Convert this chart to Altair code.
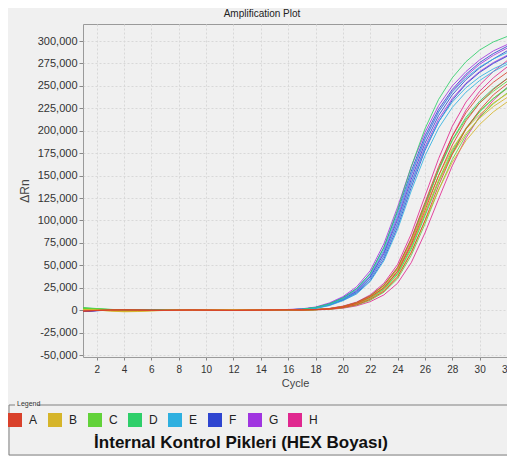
import altair as alt
import pandas as pd

cycles = list(range(1, 33))
rows = ["A", "B", "C", "D", "E", "F", "G", "H"]
row_colors = ["#d9412b", "#d6b52a", "#62d23a", "#2fcf6a", "#2fb0e0", "#2f45d0", "#a035e0", "#e0288f"]
x_ticks = list(range(2, 33, 2))
y_ticks = list(range(-50000, 300001, 25000))

# ΔRn values in thousands, cycles 1..32
A1 = [-1.2, -0.4, 0.2, 0.4, 0.3, 0.1, -0.1, 0.0, 0.2, 0.1, 0.0, -0.2, -0.1, 0.0, 0.2, 0.3,
      0.3, 0.8, 1.8, 4.2, 8.5, 16, 28, 48, 80, 120, 160, 194, 220, 240, 254, 265]
A2 = [-0.8, -0.3, 0.1, 0.3, 0.2, 0.0, -0.1, 0.1, 0.2, 0.1, -0.1, -0.2, 0.0, 0.1, 0.3, 0.4,
      0.2, 0.6, 1.4, 3.5, 7.5, 14.5, 25, 43, 73, 111, 150, 184, 211, 231, 246, 258]
A3 = [-1.0, -0.2, 0.3, 0.2, 0.0, -0.2, -0.1, 0.1, 0.1, 0.0, -0.1, -0.1, 0.1, 0.2, 0.2, 0.3,
      0.2, 0.5, 1.1, 2.8, 6.0, 12, 21, 37, 64, 100, 139, 174, 202, 223, 240, 252]
B1 = [0.5, 0.2, -1.0, -1.8, -1.5, -0.8, -0.3, 0.0, 0.2, 0.3, 0.4, 0.5, 0.4, 0.3, 0.4, 0.5,
      0.2, 0.6, 1.4, 3.5, 7.5, 14.5, 25, 43, 72, 108, 144, 174, 197, 214, 227, 237]
B2 = [0.3, 0.0, -0.8, -1.5, -1.2, -0.6, -0.2, 0.0, 0.1, 0.2, 0.3, 0.3, 0.2, 0.2, 0.3, 0.4,
      0.2, 0.5, 1.2, 3.0, 6.5, 12.5, 22, 38, 65, 99, 134, 165, 189, 207, 221, 232]
B3 = [0.8, 0.3, -0.5, -1.2, -1.0, -0.5, -0.2, 0.1, 0.2, 0.2, 0.3, 0.4, 0.3, 0.3, 0.4, 0.5,
      0.3, 0.7, 1.6, 4.0, 8.2, 15.5, 27, 46, 77, 114, 150, 180, 202, 218, 231, 241]
C1 = [2.5, 1.5, 0.8, 0.3, 0.0, -0.2, -0.1, 0.0, 0.1, 0.0, -0.1, 0.0, 0.1, 0.1, 0.2, 0.3,
      0.3, 0.7, 1.6, 3.9, 8.0, 15.5, 27, 46, 78, 117, 156, 189, 213, 231, 244, 255]
C2 = [2.0, 1.2, 0.6, 0.2, -0.1, -0.2, 0.0, 0.1, 0.0, -0.1, 0.0, 0.1, 0.1, 0.0, 0.2, 0.3,
      0.2, 0.6, 1.3, 3.3, 7.0, 13.5, 24, 41, 70, 107, 145, 178, 203, 222, 236, 247]
C3 = [1.5, 0.9, 0.4, 0.1, -0.1, -0.1, 0.0, 0.0, 0.1, 0.0, -0.1, 0.0, 0.0, 0.1, 0.1, 0.2,
      0.2, 0.5, 1.0, 2.6, 5.6, 11, 20, 35, 61, 96, 134, 168, 195, 215, 230, 242]
D1 = [3.0, 1.8, 0.9, 0.3, 0.0, -0.2, -0.1, 0.0, 0.1, 0.1, 0.0, 0.1, 0.2, 0.3, 0.4, 0.6,
      1.0, 3.0, 7.0, 13.5, 24, 41, 70, 112, 160, 202, 235, 259, 277, 290, 299, 305]
D2 = [2.2, 1.3, 0.6, 0.2, -0.1, -0.2, -0.1, 0.0, 0.1, 0.0, 0.0, 0.1, 0.1, 0.2, 0.3, 0.4,
      0.3, 0.8, 1.7, 4.1, 8.4, 16, 28, 47, 79, 118, 157, 190, 215, 233, 247, 258]
D3 = [1.8, 1.0, 0.5, 0.1, -0.1, -0.1, 0.0, 0.1, 0.0, 0.0, 0.1, 0.1, 0.0, 0.1, 0.2, 0.3,
      0.2, 0.6, 1.3, 3.2, 6.8, 13, 23, 40, 68, 105, 143, 176, 202, 221, 236, 248]
E1 = [-0.5, 0.0, 0.3, 0.4, 0.2, 0.0, -0.1, 0.0, 0.1, 0.2, 0.1, 0.0, 0.1, 0.2, 0.4, 0.6,
      1.0, 3.0, 6.5, 13, 23, 39, 67, 107, 152, 191, 221, 243, 259, 271, 280, 287]
E2 = [-0.3, 0.1, 0.3, 0.3, 0.1, -0.1, -0.1, 0.0, 0.1, 0.1, 0.0, 0.0, 0.1, 0.2, 0.3, 0.5,
      1.0, 2.5, 6.0, 12, 20, 35, 60, 97, 141, 180, 210, 232, 248, 260, 269, 276]
E3 = [-0.6, -0.1, 0.2, 0.3, 0.2, 0.0, -0.1, 0.0, 0.0, 0.1, 0.0, 0.0, 0.1, 0.1, 0.3, 0.4,
      0.5, 2.0, 5.0, 10.5, 18, 32, 55, 90, 133, 172, 203, 226, 243, 256, 266, 274]
F1 = [-1.5, -0.6, 0.0, 0.3, 0.3, 0.1, 0.0, 0.1, 0.2, 0.3, 0.2, 0.1, 0.2, 0.3, 0.4, 0.6,
      1.0, 3.0, 7.0, 14, 24, 41, 70, 110, 155, 194, 224, 246, 263, 276, 286, 294]
F2 = [-1.2, -0.5, 0.1, 0.3, 0.2, 0.0, 0.0, 0.1, 0.2, 0.2, 0.1, 0.0, 0.1, 0.2, 0.3, 0.5,
      1.0, 2.5, 6.0, 12, 21, 37, 63, 101, 146, 186, 217, 240, 257, 270, 280, 289]
F3 = [-1.0, -0.4, 0.0, 0.2, 0.1, 0.0, -0.1, 0.0, 0.1, 0.1, 0.0, 0.0, 0.1, 0.1, 0.2, 0.4,
      0.5, 2.0, 5.5, 11, 19, 33, 57, 93, 137, 178, 210, 234, 252, 265, 275, 283]
G1 = [-1.3, -0.5, 0.1, 0.3, 0.2, 0.1, 0.0, 0.1, 0.2, 0.2, 0.1, 0.1, 0.2, 0.3, 0.5, 0.8,
      1.5, 3.5, 8.0, 15, 26, 44, 74, 115, 160, 198, 228, 250, 266, 279, 289, 296]
G2 = [-1.0, -0.4, 0.1, 0.2, 0.1, 0.0, 0.0, 0.1, 0.1, 0.2, 0.1, 0.0, 0.1, 0.2, 0.4, 0.6,
      1.0, 3.0, 6.5, 13, 22, 38, 65, 104, 150, 190, 221, 244, 261, 274, 284, 292]
G3 = [-0.8, -0.3, 0.1, 0.2, 0.1, 0.0, -0.1, 0.0, 0.1, 0.1, 0.0, 0.0, 0.1, 0.2, 0.3, 0.5,
      1.0, 2.5, 6.0, 12, 20, 35, 60, 97, 142, 182, 213, 236, 253, 266, 276, 284]
H1 = [-0.9, -0.3, 0.2, 0.3, 0.2, 0.0, -0.1, 0.0, 0.2, 0.1, 0.0, -0.1, 0.0, 0.1, 0.3, 0.4,
      0.3, 0.8, 1.9, 4.5, 9.0, 17, 30, 51, 85, 127, 169, 205, 232, 251, 266, 278]
H2 = [-0.7, -0.2, 0.2, 0.2, 0.1, 0.0, -0.1, 0.0, 0.1, 0.1, 0.0, -0.1, 0.0, 0.1, 0.2, 0.4,
      0.2, 0.6, 1.4, 3.5, 7.4, 14.5, 25, 44, 75, 115, 157, 194, 223, 244, 259, 271]
H3 = [-0.6, -0.2, 0.1, 0.2, 0.1, 0.0, 0.0, 0.0, 0.1, 0.1, 0.0, 0.0, 0.0, 0.1, 0.2, 0.3,
      0.1, 0.4, 0.9, 2.2, 4.8, 9.5, 17, 30, 53, 86, 124, 161, 192, 216, 234, 248]

wells = {
    "A1": A1, "A2": A2, "A3": A3, "B1": B1, "B2": B2, "B3": B3,
    "C1": C1, "C2": C2, "C3": C3, "D1": D1, "D2": D2, "D3": D3,
    "E1": E1, "E2": E2, "E3": E3, "F1": F1, "F2": F2, "F3": F3,
    "G1": G1, "G2": G2, "G3": G3, "H1": H1, "H2": H2, "H3": H3,
}

records = []
for name in reversed(list(wells)):
    for c, v in zip(cycles, wells[name]):
        records.append({"well": name, "row": name[0], "cycle": c, "drn": v * 1000})
df = pd.DataFrame(records)

FONT = "Liberation Sans"
BG = "#f0f0f0"

x_axis = alt.Axis(values=x_ticks, title="Cycle", labelFontSize=10,
                  labelOverlap=False, labelFlush=False, labelSeparation=0,
                  tickSize=3, labelPadding=4, titlePadding=3,
                  titleFontSize=11, titleFontWeight="normal")
y_axis = alt.Axis(values=y_ticks, title="ΔRn",
                  labelExpr="replace(format(datum.value, ','), '\u2212', '-')",
                  labelOverlap=False,
                  labelFontSize=11, tickSize=4, labelPadding=2,
                  titlePadding=6, titleFontSize=12, titleFontWeight="normal")
x_scale = alt.Scale(domain=[1, 32], nice=False, zero=False)
y_scale = alt.Scale(domain=[-52200, 319000], nice=False, zero=False)

lines = alt.Chart(df).mark_line(strokeWidth=1, opacity=0.85, clip=True).encode(
    x=alt.X("cycle:Q", scale=x_scale, axis=x_axis),
    y=alt.Y("drn:Q", scale=y_scale, axis=y_axis),
    detail="well:N", order="cycle:Q",
    stroke=alt.Stroke("row:N", scale=alt.Scale(domain=rows, range=row_colors), legend=None),
)

# legend keys: one entry per plate row, placed outside the y domain and clipped away
legend_df = pd.DataFrame({"sample": rows, "cycle": [1] * 8, "drn": [400000] * 8})
swatches = alt.Chart(legend_df).mark_square(size=10, clip=True, filled=True, opacity=1).encode(
    x=alt.X("cycle:Q", scale=x_scale, axis=x_axis),
    y=alt.Y("drn:Q", scale=y_scale, axis=y_axis),
    fill=alt.Fill("sample:N", scale=alt.Scale(domain=rows, range=row_colors),
                  legend=alt.Legend(title=None, orient="none", legendX=-75, legendY=389,
                                    direction="horizontal", columns=8, symbolType="square",
                                    symbolSize=196, symbolStrokeWidth=0, symbolOpacity=1,
                                    labelFontSize=12, labelFont=FONT, labelColor="#222",
                                    labelOffset=7, columnPadding=9, gridAlign="all", padding=0)),
)

one = pd.DataFrame({"k": [0]})
box_top1 = alt.Chart(one).mark_rule(color="#808080", strokeWidth=1).encode(
    x=alt.value(-74), x2=alt.value(-68), y=alt.value(381))
box_top2 = alt.Chart(one).mark_rule(color="#808080", strokeWidth=1).encode(
    x=alt.value(-46), x2=alt.value(424), y=alt.value(381))
box_left = alt.Chart(one).mark_rule(color="#808080", strokeWidth=1).encode(
    x=alt.value(-74), y=alt.value(381), y2=alt.value(431))
box_bottom = alt.Chart(one).mark_rule(color="#808080", strokeWidth=1).encode(
    x=alt.value(-74), x2=alt.value(424), y=alt.value(431))
legend_word = alt.Chart(one).mark_text(fontSize=7, font=FONT, color="#333", align="left",
                                       baseline="middle").encode(
    x=alt.value(-66), y=alt.value(380), text=alt.value("Legend"))
caption = alt.Chart(one).mark_text(fontSize=17, font=FONT, fontWeight="bold", color="#111",
                                   align="center", baseline="middle").encode(
    x=alt.value(158), y=alt.value(419), text=alt.value("İnternal Kontrol Pikleri (HEX Boyası)"))

chart = alt.layer(
    lines, swatches, box_top1, box_top2, box_left, box_bottom, legend_word, caption
).resolve_scale(
    fill="independent", stroke="independent"
).properties(
    width=424, height=333,
    background=BG,
    padding={"left": 75, "top": 16, "right": 0, "bottom": 99},
    autosize=alt.AutoSizeParams(type="none"),
    title=alt.TitleParams("Amplification Plot", fontSize=10, fontWeight="normal", font=FONT,
                          color="#222", dx=-33, offset=5),
).configure_view(
    stroke="#9a9a9a", strokeWidth=1, fill=BG
).configure_axis(
    gridColor="#d8d8d8", gridDash=[2, 2], gridWidth=1, domain=False, labelOverlap=False,
    labelFont=FONT, titleFont=FONT, labelColor="#333", titleColor="#444", tickColor="#888",
)

chart.save("out.html", embed_options={"renderer": "svg", "actions": False})
